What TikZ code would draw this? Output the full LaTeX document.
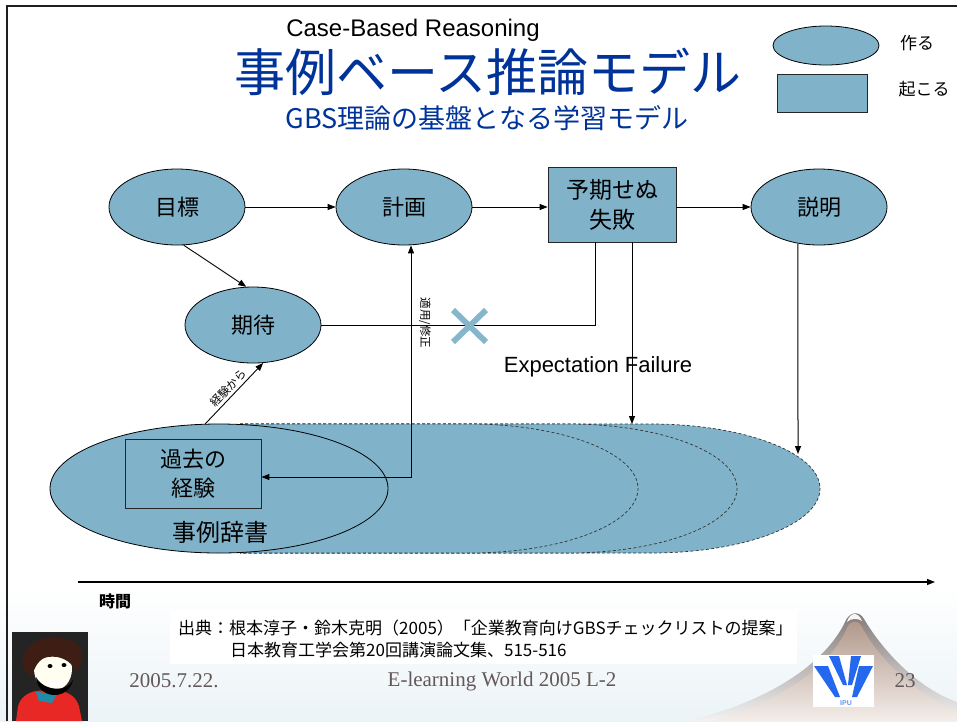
\documentclass[tikz,border=0pt]{standalone}
\usepackage{fontspec}
\setmainfont{Liberation Sans}
\newfontfamily\jp{Noto Sans CJK JP}
\newfontfamily\timesf{Liberation Serif}
\usetikzlibrary{shapes.geometric,arrows.meta}

\definecolor{cbr}{RGB}{128,179,202}
\definecolor{ttl}{RGB}{0,51,153}
\definecolor{foot}{RGB}{100,88,88}
\definecolor{footblue}{RGB}{158,197,216}
\definecolor{xmk}{RGB}{134,182,204}
\definecolor{logoblue}{RGB}{36,104,240}
\definecolor{hair}{RGB}{62,30,20}
\definecolor{shirt}{RGB}{232,40,36}
\definecolor{collar}{RGB}{30,140,168}
\definecolor{mtnedge}{RGB}{130,118,118}
\definecolor{mtnbody}{RGB}{176,150,136}
\definecolor{mtnbase}{RGB}{244,238,234}

\tikzset{
  ev/.style={ellipse, draw=black, line width=0.8pt, fill=cbr,
    minimum width=136pt, minimum height=76pt, inner sep=0pt,
    font=\jp\fontsize{22}{26}\selectfont},
  evbox/.style={rectangle, draw=black!85, line width=0.8pt, fill=cbr,
    inner sep=0pt, align=center},
  arr/.style={-{Triangle[length=8pt,width=6pt]}, line width=0.9pt},
  biarr/.style={{Triangle[length=8pt,width=6pt]}-{Triangle[length=8pt,width=6pt]}, line width=0.9pt},
  plain/.style={line width=0.9pt},
  caseedge/.style={draw=black!80, line width=0.7pt, dash pattern=on 3pt off 2.2pt},
  smalljp/.style={font=\jp\fontsize{11.5}{13}\selectfont, inner sep=1pt},
  foottext/.style={font=\timesf\fontsize{21}{24}\selectfont, text=foot},
}

% outline of one stage of the growing case library: flat top and bottom,
% elliptical right end
\newcommand{\casepath}[1]{(240,424) -- (#1,424) arc[start angle=-90, end angle=90, x radius=169, y radius=64.5] -- (240,553)}

\begin{document}
\begin{tikzpicture}[x=1pt, y=-1pt]
\useasboundingbox (0,0) rectangle (957,721);
\fill[white] (0,0) rectangle (957,721);

% footer band
\shade[top color=white, middle color=footblue, bottom color=white!80!footblue] (0,585) rectangle (957,721);

% mountain
\shade[top color=mtnedge, bottom color=white!95!black]
  (686,721) .. controls (770,702) and (826,662) .. (845,622)
  .. controls (849,612) and (859,610) .. (864,619)
  .. controls (886,656) and (922,690) .. (957,702) -- (957,721) -- cycle;
\shade[top color=mtnbody, bottom color=mtnbase]
  (712,721) .. controls (785,700) and (832,664) .. (847,628)
  .. controls (850,620) and (858,619) .. (862,627)
  .. controls (880,662) and (918,694) .. (957,712) -- (957,721) -- cycle;
\fill[white!92!gray] (847,622) .. controls (850,612) and (858,611) .. (862,621)
  .. controls (858,618) and (851,618) .. (847,622) -- cycle;

% slide frame
\draw[line width=2pt, black!88] (7,721) -- (7,6) -- (957,6);

% headings
\node[font=\fontsize{24}{28}\selectfont] (eng) at (413,30) {Case-Based Reasoning};
\node[font=\jp\fontsize{51}{56}\selectfont, text=ttl] (title) at (488,72) {事例ベース推論モデル};
\node[font=\jp\fontsize{27}{31}\selectfont, text=ttl] (subtitle) at (487,118) {GBS理論の基盤となる学習モデル};

% legend
\node[ev, minimum width=106pt, minimum height=39pt] (legE) at (826,45.5) {};
\node[font=\jp\fontsize{17}{20}\selectfont] (legEtxt) at (917,43) {作る};
\node[evbox, minimum width=90pt, minimum height=38pt] (legR) at (822,93) {};
\node[font=\jp\fontsize{17}{20}\selectfont] (legRtxt) at (924,89) {起こる};

% case library stages (outermost first)
\fill[cbr] \casepath{651} -- cycle;
\draw[caseedge] \casepath{651};
\fill[cbr] \casepath{568} -- cycle;
\draw[caseedge] \casepath{568};
\fill[cbr] \casepath{469} -- cycle;
\draw[caseedge] \casepath{469};
\coordinate (failin) at (632,424);
\coordinate (explin) at (798,454);

% case library and past experience
\node[ev, minimum width=338pt, minimum height=129pt] (jirei) at (219,488.5) {};
\node[font=\jp\fontsize{24}{28}\selectfont] (jireitxt) at (220,532) {事例辞書};
\node[evbox, minimum width=136pt, minimum height=69pt,
  font=\jp\fontsize{22}{29}\selectfont] (kako) at (193,473.5) {過去の\\経験};

% main process
\node[ev] (mokuhyo) at (177,207) {目標};
\node[ev] (keikaku) at (404,207) {計画};
\node[evbox, minimum width=128pt, minimum height=75pt,
  font=\jp\fontsize{23}{30}\selectfont] (yoki) at (612,204.5) {予期せぬ\\失敗};
\node[ev] (setsumei) at (819,207) {説明};
\node[ev] (kitai) at (253,325) {期待};

% connectors
\draw[arr] (mokuhyo.east) -- (keikaku.west);
\draw[arr] (keikaku.east) -- (keikaku.east -| yoki.west);
\draw[arr] (yoki.east |- setsumei.west) -- (setsumei.west);
\draw[arr] (mokuhyo.-80) -- (kitai.100);
\draw[arr] (jirei.102) -- node[sloped, above=1pt, smalljp] (keikenlbl) {経験から} (kitai.-75);
\draw[biarr] ([xshift=7pt]keikaku.south) |- ([yshift=-3.5pt]kako.east);
\node[smalljp, rotate=-90] (tekiyo) at (425,323) {適用/修正};
\draw[plain] (kitai.east) -| ([xshift=-17pt]yoki.south);
\draw[arr] ([xshift=20pt]yoki.south) -- (failin);
\draw[arr, line width=1pt] (setsumei.-120) -- (explin);

% rejected expectation
\coordinate (xm) at (469.5,326);
\draw[xmk, line width=5.8pt] ([xshift=-16.5pt,yshift=16pt]xm) -- ([xshift=16.5pt,yshift=-16pt]xm);
\draw[xmk, line width=5.8pt] ([xshift=-16.5pt,yshift=-16pt]xm) -- ([xshift=16.5pt,yshift=16pt]xm);
\node[font=\fontsize{22}{26}\selectfont] (expfail) at (598,367) {Expectation Failure};

% time axis
\coordinate (t0) at (78,582);
\coordinate (t1) at (935,582);
\draw[arr, line width=1.1pt] (t0) -- (t1);
\node[font=\jp\bfseries\fontsize{16}{19}\selectfont] (jikan) at (115,601) {時間};

% source note
\node[fill=white, minimum width=627pt, minimum height=54pt, inner sep=0pt] (cite) at (483.5,637) {};
\node[anchor=west, inner sep=0pt, font=\jp\fontsize{17}{20}\selectfont] (cite1) at (178,628)
  {出典：根本淳子・鈴木克明（2005）「企業教育向けGBSチェックリストの提案」};
\node[anchor=west, inner sep=0pt, font=\jp\fontsize{17}{20}\selectfont] (cite2) at (230,650)
  {日本教育工学会第20回講演論文集、515-516};

% footer texts
\node[foottext] (date) at (174,681) {2005.7.22.};
\node[foottext] (conf) at (502,681) {E-learning World 2005 L-2};
\node[foottext] (page) at (905,681) {23};

% university logo
\fill[white] (813,655) rectangle (874,707);
\fill[logoblue] (829,656) -- (839,656) -- (847,685) -- (843,685) -- cycle;
\fill[logoblue] (851,656) -- (861,656) -- (852,685) -- (848,685) -- cycle;
\fill[logoblue] (814,666) -- (828,666) -- (840,697) -- (835,697) -- cycle;
\fill[logoblue] (873,666) -- (859,666) -- (852,697) -- (857,697) -- cycle;
\node[font=\bfseries\fontsize{7}{8}\selectfont, text=logoblue!70, inner sep=0pt] (ipu) at (846,703) {IPU};

% portrait
\fill[black!86] (12,632) rectangle (88,721);
\fill[shirt] (16,721) -- (18,706) .. controls (22,693) and (35,689) .. (48,691)
  .. controls (62,689) and (75,693) .. (79,706) -- (82,721) -- cycle;
\fill[collar] (36,692) -- (57,694) -- (52,703) -- (39,701) -- cycle;
\fill[white!94!yellow] (53,669) ellipse [x radius=19, y radius=22];
\fill[hair] (23,668) .. controls (18,642) and (48,632) .. (70,640)
  .. controls (86,646) and (84,666) .. (76,672)
  .. controls (72,661) and (60,655) .. (48,657)
  .. controls (40,658) and (34,666) .. (32,678) -- cycle;
\fill[black] (36,677) .. controls (38,700) and (68,701) .. (73,680)
  .. controls (68,692) and (44,692) .. (36,677) -- cycle;
\fill[white] (46,682) .. controls (52,688) and (60,688) .. (66,681) -- cycle;
\fill[black] (50,666) ellipse [x radius=2.5, y radius=2];
\fill[black] (64,665) ellipse [x radius=2.5, y radius=2];
\end{tikzpicture}
\end{document}
